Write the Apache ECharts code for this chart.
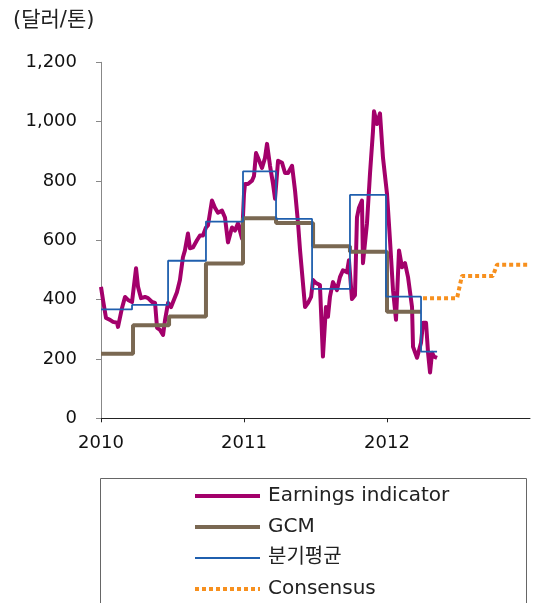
<!DOCTYPE html>
<html>
<head>
<meta charset="utf-8">
<script src="https://cdn.jsdelivr.net/npm/echarts@6/dist/echarts.min.js"></script>
<style>
html,body{margin:0;padding:0;background:#fff;}
#main{width:560px;height:603px;}
</style>
</head>
<body>
<div id="main"></div>
<script>
// 월별/주별 지표 (연도 소수 표기)
var earnX = [2010.000,2010.014,2010.035,2010.063,2010.084,2010.112,2010.119,2010.147,2010.168,2010.189,
  2010.217,2010.245,2010.259,2010.280,2010.308,2010.329,2010.357,2010.378,2010.392,2010.413,
  2010.434,2010.448,2010.469,2010.490,2010.531,2010.552,2010.573,2010.587,2010.608,2010.622,
  2010.643,2010.671,2010.692,2010.713,2010.734,2010.748,2010.776,2010.797,2010.818,2010.846,
  2010.867,2010.888,2010.916,2010.937,2010.958,2010.986,2011.000,2011.007,2011.028,2011.056,
  2011.070,2011.084,2011.098,2011.126,2011.147,2011.161,2011.182,2011.203,2011.217,2011.238,
  2011.266,2011.287,2011.308,2011.336,2011.357,2011.378,2011.392,2011.427,2011.448,2011.469,
  2011.483,2011.503,2011.531,2011.552,2011.573,2011.587,2011.601,2011.622,2011.650,2011.671,
  2011.692,2011.720,2011.734,2011.755,2011.776,2011.790,2011.804,2011.825,2011.832,2011.860,
  2011.881,2011.902,2011.909,2011.930,2011.951,2011.972,2012.000,2012.021,2012.042,2012.063,
  2012.084,2012.105,2012.126,2012.147,2012.175,2012.182,2012.210,2012.238,2012.252,2012.273,
  2012.287,2012.301,2012.315,2012.329,2012.350];
var earnY = [443,399,338,332,325,322,308,372,409,399,
  392,506,443,405,409,405,392,389,305,298,
  281,332,389,375,425,466,543,566,623,573,
  576,600,616,616,643,650,734,710,693,700,
  677,593,643,633,657,606,757,790,790,801,
  817,894,878,844,878,925,851,790,740,868,
  861,827,827,851,767,657,566,375,389,409,
  466,456,449,208,375,342,409,459,432,476,
  499,492,533,402,415,677,710,734,523,657,
  824,968,1035,992,1028,878,757,600,432,332,
  566,509,523,476,375,241,204,255,322,322,
  221,154,221,208,204];

// GCM (구간 시작점, 마지막은 끝점)
var gcmX = [2010.000,2010.224,2010.476,2010.734,2010.993,2011.224,2011.483,2011.741,2012.000,2012.238];
var gcmY = [218,314,343,522,674,658,580,561,359];

// 분기평균
var qtrX = [2010.000,2010.217,2010.469,2010.734,2010.993,2011.224,2011.476,2011.741,2011.993,2012.238,2012.350];
var qtrY = [367,382,531,663,832,672,436,753,410,225];

// Consensus
var consX = [2012.252,2012.490,2012.524,2012.741,2012.769,2013.000];
var consY = [405,405,480,480,518,518];

var xTicks = [2010,2011,2012];

var FONT = "'DejaVu Sans','Noto Sans CJK KR',sans-serif";

function pairs(xs, ys){
  return xs.map(function(x,i){ return [x, ys[Math.min(i, ys.length-1)]]; });
}

var myChart = echarts.init(document.getElementById('main'), null, {renderer:'canvas'});

var option = {
  animation: false,
  backgroundColor: '#fff',
  textStyle: {fontFamily: FONT},
  title: {
    text: '(달러/톤)',
    left: 13, top: 10, padding: 0,
    textStyle: {fontFamily: FONT, fontSize: 21, fontWeight: 'normal', color: '#222'}
  },
  grid: {left: 101, top: 62.3, width: 429, height: 356},
  xAxis: {
    type: 'value', min: 2010, max: 2013, interval: 1,
    splitLine: {show: false},
    axisLine: {lineStyle: {color: '#222', width: 1}},
    axisTick: {show: true, length: 4, lineStyle: {color: '#222'}, customValues: xTicks},
    axisLabel: {
      customValues: xTicks, margin: 16,
      fontFamily: FONT, fontSize: 18, color: '#111',
      formatter: function(v){ return String(v); }
    }
  },
  yAxis: {
    type: 'value', min: 0, max: 1200, interval: 200,
    splitLine: {show: false},
    axisLine: {show: true, lineStyle: {color: '#888', width: 1}},
    axisTick: {show: true, length: 5, lineStyle: {color: '#888'}},
    axisLabel: {
      margin: 24, fontFamily: FONT, fontSize: 18, color: '#111',
      formatter: function(v){ return v.toLocaleString('en-US'); }
    }
  },
  legend: {
    orient: 'vertical', left: 193, top: 486, padding: 0,
    height: 120,
    itemWidth: 65, itemHeight: 14, itemGap: 11,
    itemStyle: {opacity: 0},
    lineStyle: {width: 'inherit'},
    textStyle: {fontFamily: FONT, fontSize: 20, color: '#222', lineHeight: 20, padding: [0,0,0,3]},
    data: ['Earnings indicator', 'GCM', '분기평균', 'Consensus']
  },
  graphic: [{
    type: 'rect', silent: true,
    shape: {x: 100.5, y: 478.5, width: 426, height: 160},
    style: {fill: 'none', stroke: '#666', lineWidth: 1}
  }],
  series: [
    {
      name: 'Earnings indicator', type: 'line', showSymbol: false, symbol: 'none',
      data: pairs(earnX, earnY),
      lineStyle: {color: '#a3006b', width: 4, join: 'round'},
      itemStyle: {color: '#a3006b'}
    },
    {
      name: 'GCM', type: 'line', step: 'end', showSymbol: false, symbol: 'none',
      data: pairs(gcmX, gcmY),
      lineStyle: {color: '#7a6852', width: 4},
      itemStyle: {color: '#7a6852'}
    },
    {
      name: '분기평균', type: 'line', step: 'end', showSymbol: false, symbol: 'none',
      data: pairs(qtrX, qtrY),
      lineStyle: {color: '#1f5fae', width: 1.8},
      itemStyle: {color: '#1f5fae'}
    },
    {
      name: 'Consensus', type: 'line', showSymbol: false, symbol: 'none', clip: false,
      data: pairs(consX, consY),
      lineStyle: {color: '#f7901e', width: 4, type: [4, 3]},
      itemStyle: {color: '#f7901e'}
    }
  ]
};

myChart.setOption(option);
</script>
</body>
</html>
